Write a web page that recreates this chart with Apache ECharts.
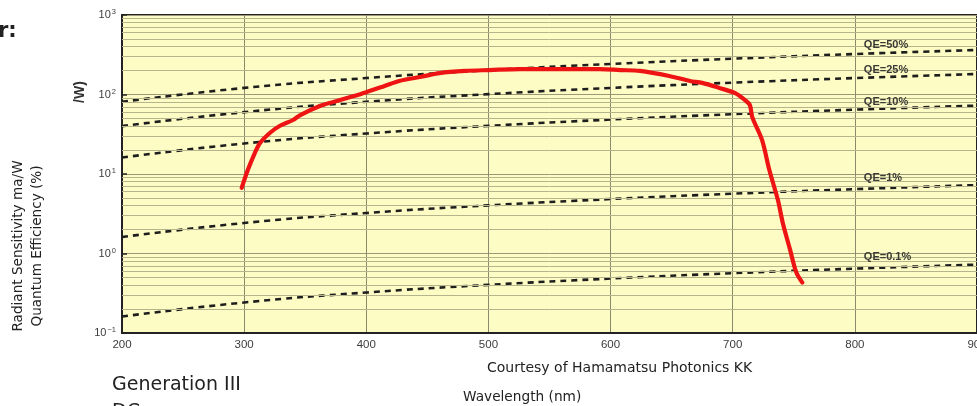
<!DOCTYPE html>
<html><head><meta charset="utf-8">
<script src="https://cdn.jsdelivr.net/npm/echarts@6/dist/echarts.min.js"></script>
<style>html,body{margin:0;padding:0;background:#fff;overflow:hidden}#c{width:977px;height:406px;}</style>
</head><body><div id="c"></div>
<script>
// ---- data ----
const wavelengthTicks = [200, 300, 400, 500, 600, 700, 800, 900];
const decadeTicks = [0.1, 1, 10, 100, 1000];
const minorMultipliers = [2, 3, 4, 5, 6, 7, 8, 9];

// Radiant sensitivity (mA/W) of the Gen III photocathode
const sensWavelength = [298,303,308,313,321,329,340,346,362,373,387,400,415,427,444,460,481,501,526,558,591,608,624,648,665,675,689,702,710,714,716,724,730,737,741,747,752,757];
const sensValues     = [6.7,11.2,17.3,24.5,32.8,40.2,47.8,55.2,71.6,80.5,93,107,128,148,166,186,198,203,209,209,209,203,198,171,148,140,121,104,85,74,52,26.8,11.2,4.7,2.42,1.11,0.58,0.43];

// Quantum-efficiency reference lines (mA/W)
const qeWavelength = [200, 300, 400, 500, 600, 700, 800, 900];
const qe50  = [81, 121, 161, 202, 242, 282, 323, 363];
const qe25  = [40, 60, 81, 101, 121, 141, 161, 181];
const qe10  = [16.1, 24.2, 32.3, 40.3, 48.4, 56.5, 64.5, 72.6];
const qe1   = [1.61, 2.42, 3.23, 4.03, 4.84, 5.65, 6.45, 7.26];
const qe01  = [0.161, 0.242, 0.323, 0.403, 0.484, 0.565, 0.645, 0.726];
const qeNames = ['QE=50%', 'QE=25%', 'QE=10%', 'QE=1%', 'QE=0.1%'];
const qeSets = [qe50, qe25, qe10, qe1, qe01];

// ---- chart ----
const chart = echarts.init(document.getElementById('c'), null, {renderer: 'canvas'});
const zip = (xs, ys) => xs.map((x, i) => [x, ys[i]]);

const minorValues = [];
decadeTicks.slice(0, -1).forEach(d => minorMultipliers.forEach(m => minorValues.push(+(d * m).toPrecision(3))));

const labelOffsets = [[9, -9], [9, -8], [9, -8], [9, -11], [9, -12]];

const series = [];
series.push({
  type: 'line', data: [], silent: true, z: 1,
  markLine: {
    silent: true, symbol: 'none', animation: false,
    label: {show: false},
    lineStyle: {color: '#b6b48c', width: 1, type: 'solid'},
    data: minorValues.map(v => ({yAxis: v}))
  }
});
qeSets.forEach((arr, i) => {
  series.push({
    type: 'line', name: qeNames[i], data: zip(qeWavelength, arr),
    showSymbol: false, symbol: 'none', smooth: true, z: 3, silent: true,
    lineStyle: {color: '#1e1e1e', width: 2.6, type: [6, 5]},
    markPoint: {
      symbol: 'circle', symbolSize: 0, silent: true, animation: false,
      data: [{coord: [qeWavelength[6], arr[6]], name: qeNames[i]}],
      label: {
        show: true, formatter: qeNames[i], position: labelOffsets[i],
        verticalAlign: 'middle', align: 'left',
        fontFamily: 'Liberation Sans', fontWeight: 'bold', fontSize: 11, color: '#3a3a36'
      }
    }
  });
});
series.push({
  type: 'line', name: 'Radiant Sensitivity', data: zip(sensWavelength, sensValues),
  showSymbol: false, symbol: 'none', smooth: 0.3, z: 5, silent: true,
  lineStyle: {color: '#ee1414', width: 4.2, cap: 'round', join: 'round'}
});

const txt = (o) => Object.assign({type: 'text', silent: true}, o);

chart.setOption({
  animation: false,
  backgroundColor: '#ffffff',
  grid: {left: 122, top: 15, right: 0, bottom: 73, show: true, containLabel: false,
         outerBoundsMode: 'none',
         backgroundColor: '#fdfcc4', borderColor: '#222', borderWidth: 2, z: 0},
  xAxis: {
    type: 'value', min: 200, max: 900, interval: 100,
    axisLine: {show: true, onZero: false, lineStyle: {color: '#222', width: 2}},
    axisTick: {show: false},
    splitLine: {show: true, lineStyle: {color: '#8c8a6c', width: 1}},
    axisLabel: {margin: 6, fontFamily: 'Liberation Sans', fontSize: 11.5, color: '#3c3c3c',
      showMaxLabel: true, hideOverlap: false,
      formatter: v => wavelengthTicks.includes(v) ? String(v) : ''}
  },
  yAxis: {
    type: 'log', logBase: 10, min: 0.1, max: 1000,
    axisLine: {show: true, lineStyle: {color: '#222', width: 2}},
    axisTick: {show: true, inside: true, length: 5, lineStyle: {color: '#222', width: 1.5}},
    splitLine: {show: true, lineStyle: {color: '#9a9876', width: 1}},
    axisLabel: {
      margin: 6, color: '#3c3c3c', fontFamily: 'Liberation Sans',
      formatter: v => {
        const e = Math.round(Math.log10(v));
        return decadeTicks.some(d => Math.abs(d - v) / d < 1e-6) ? '{b|10}{s|' + (e < 0 ? '\u2212' + (-e) : e) + '}' : '';
      },
      rich: {
        b: {fontSize: 11, fontFamily: 'Liberation Sans', color: '#3c3c3c'},
        s: {fontSize: 7.5, fontFamily: 'Liberation Sans', color: '#3c3c3c', padding: [0, 0, 6, 1]}
      }
    }
  },
  series: series,
  graphic: [
    txt({x: 18, y: 246, rotation: Math.PI / 2, style: {text: 'Radiant Sensitivity ma/W', fill: '#222',
      font: '13.6px "DejaVu Sans"', align: 'center', verticalAlign: 'middle'}}),
    txt({x: 37, y: 246, rotation: Math.PI / 2, style: {text: 'Quantum Efficiency (%)', fill: '#222',
      font: '13.6px "DejaVu Sans"', align: 'center', verticalAlign: 'middle'}}),
    txt({x: 487, y: 368, style: {text: 'Courtesy of Hamamatsu Photonics KK', fill: '#222',
      font: '14px "DejaVu Sans"', align: 'left', verticalAlign: 'middle'}}),
    txt({x: 463, y: 397, style: {text: 'Wavelength (nm)', fill: '#222',
      font: '13.7px "DejaVu Sans"', align: 'left', verticalAlign: 'middle'}}),
    txt({x: 112, y: 385, style: {text: 'Generation III', fill: '#222',
      font: '19px "DejaVu Sans"', align: 'left', verticalAlign: 'middle'}}),
    txt({x: 112, y: 412, style: {text: 'DC', fill: '#222',
      font: '19px "DejaVu Sans"', align: 'left', verticalAlign: 'middle'}}),
    txt({x: -2, y: 32, style: {text: 'r:', fill: '#222',
      font: 'bold 21px "DejaVu Sans"', align: 'left', verticalAlign: 'middle'}}),
    txt({x: 80, y: 92, rotation: Math.PI / 2, style: {text: '/W)', fill: '#333',
      font: 'bold 14px "Liberation Sans"', align: 'center', verticalAlign: 'middle'}})
  ]
});
</script></body></html>
